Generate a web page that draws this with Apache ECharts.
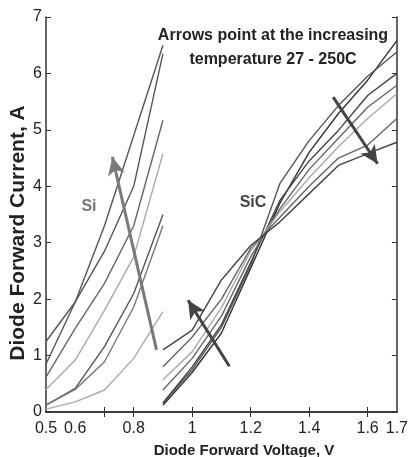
<!DOCTYPE html>
<html>
<head>
    <meta charset="UTF-8">
    <title>Diode forward characteristics</title>
    <script src="https://cdnjs.cloudflare.com/ajax/libs/echarts/6.0.0/echarts.min.js"></script>
    <style>
        html, body { margin: 0; padding: 0; background: #fff; }
        #chart { width: 411px; height: 457px; }
    </style>
</head>
<body>
    <div id="chart"></div>
    <script>
        // voltage steps
        const siVolt = [0.5, 0.6, 0.7, 0.8, 0.9];
        const sicVolt = [0.9, 1.0, 1.1, 1.2, 1.3, 1.4, 1.5, 1.6, 1.7];

        // Si curves, current in A
        const siCurrent = [
            [1.25, 1.95, 3.3, 4.9, 6.5],
            [0.85, 1.95, 2.85, 4.0, 6.35],
            [0.62, 1.48, 2.28, 3.3, 5.17],
            [0.4, 0.92, 1.8, 2.75, 4.58],
            [0.12, 0.42, 1.16, 2.1, 3.5],
            [0.12, 0.4, 0.89, 1.86, 3.3],
            [0.05, 0.18, 0.39, 0.95, 1.78]
        ];

        // SiC curves, current in A
        const sicCurrent = [
            [0.12, 0.7, 1.4, 2.55, 3.7, 4.6, 5.29, 5.88, 6.58],
            [0.16, 0.75, 1.5, 2.6, 4.05, 4.81, 5.43, 5.95, 6.38],
            [0.16, 0.8, 1.55, 2.65, 3.75, 4.45, 4.99, 5.61, 6.0],
            [0.39, 0.95, 1.7, 2.75, 3.6, 4.3, 4.85, 5.4, 5.79],
            [0.57, 1.07, 1.85, 2.85, 3.55, 4.15, 4.7, 5.2, 5.64],
            [0.8, 1.33, 2.0, 2.9, 3.45, 4.0, 4.5, 4.73, 5.2],
            [1.1, 1.45, 2.34, 2.95, 3.37, 3.87, 4.37, 4.58, 4.78]
        ];

        // tick labels
        const xLabels = [0.5, 0.6, 0.8, 1, 1.2, 1.4, 1.6, 1.7];
        const xTicks = [0.7, 0.8, 1, 1.2, 1.4, 1.6];

        // arrows: [from, to] in volts / amps
        const arrows = [
            { from: [0.878, 1.1], to: [0.727, 4.52], color: '#7a7a7a' },
            { from: [1.127, 0.81], to: [0.986, 1.98], color: '#444' },
            { from: [1.482, 5.58], to: [1.634, 4.4], color: '#444' }
        ];

        const siColors = ['#555', '#555', '#666', '#aaa', '#555', '#777', '#aaa'];
        const sicColors = ['#333', '#555', '#444', '#666', '#aaa', '#666', '#444'];

        const font = '"Liberation Sans", Arial, sans-serif';
        const chart = echarts.init(document.getElementById('chart'));

        function curve(volts, amps, color) {
            return {
                type: 'line',
                data: volts.map((v, i) => [v, amps[i]]),
                symbol: 'none',
                lineStyle: { color: color, width: 1.4 },
                silent: true
            };
        }

        const series = [];
        siCurrent.forEach((c, i) => series.push(curve(siVolt, c, siColors[i])));
        sicCurrent.forEach((c, i) => series.push(curve(sicVolt, c, sicColors[i])));
        arrows.forEach(a => {
            series.push({
                type: 'line',
                data: [],
                silent: true,
                markLine: {
                    silent: true,
                    animation: false,
                    symbol: ['none', 'arrow'],
                    symbolSize: [13, 18],
                    label: { show: false },
                    lineStyle: { color: a.color, width: 3, type: 'solid' },
                    data: [[{ coord: a.from }, { coord: a.to }]]
                }
            });
        });

        const frameLine = { show: true, lineStyle: { color: '#333', width: 1.5 } };

        const option = {
            animation: false,
            grid: { left: 46, right: 9, top: 17, bottom: 45 },
            xAxis: [
                {
                    type: 'value', min: 0.5, max: 1.7,
                    axisLine: frameLine,
                    splitLine: { show: false },
                    axisTick: { inside: true, length: 5, customValues: xTicks, lineStyle: { color: '#333' } },
                    axisLabel: {
                        customValues: xLabels, margin: 9, color: '#222',
                        fontFamily: font, fontSize: 16
                    }
                },
                {
                    type: 'value', min: 0.5, max: 1.7, position: 'top',
                    axisLine: frameLine,
                    splitLine: { show: false },
                    axisTick: { inside: true, length: 5, customValues: xTicks, lineStyle: { color: '#333' } },
                    axisLabel: { show: false }
                }
            ],
            yAxis: [
                {
                    type: 'value', min: 0, max: 7, interval: 1,
                    axisLine: frameLine,
                    splitLine: { show: false },
                    axisTick: { inside: true, length: 5, lineStyle: { color: '#333' } },
                    axisLabel: { margin: 4, color: '#222', fontFamily: font, fontSize: 16 }
                },
                {
                    type: 'value', min: 0, max: 7, interval: 1, position: 'right',
                    axisLine: frameLine,
                    splitLine: { show: false },
                    axisTick: { inside: true, length: 5, lineStyle: { color: '#333' } },
                    axisLabel: { show: false }
                }
            ],
            graphic: [
                {
                    type: 'text', x: 18, y: 233, rotation: Math.PI / 2,
                    style: {
                        text: 'Diode Forward Current, A', fill: '#222',
                        font: 'bold 21px ' + font, align: 'center', verticalAlign: 'middle'
                    }
                },
                {
                    type: 'text', x: 244, y: 451,
                    style: {
                        text: 'Diode Forward Voltage, V', fill: '#222',
                        font: 'bold 15px ' + font, align: 'center', verticalAlign: 'middle'
                    }
                },
                {
                    type: 'text', x: 273, y: 36,
                    style: {
                        text: 'Arrows point at the increasing', fill: '#222',
                        font: 'bold 16px ' + font, align: 'center', verticalAlign: 'middle'
                    }
                },
                {
                    type: 'text', x: 273, y: 60,
                    style: {
                        text: 'temperature 27 - 250C', fill: '#222',
                        font: 'bold 16px ' + font, align: 'center', verticalAlign: 'middle'
                    }
                },
                {
                    type: 'text', x: 89, y: 207,
                    style: {
                        text: 'Si', fill: '#777',
                        font: 'bold 16px ' + font, align: 'center', verticalAlign: 'middle'
                    }
                },
                {
                    type: 'text', x: 253, y: 203,
                    style: {
                        text: 'SiC', fill: '#444',
                        font: 'bold 16px ' + font, align: 'center', verticalAlign: 'middle'
                    }
                }
            ],
            series: series
        };

        chart.setOption(option);
        window.addEventListener('resize', () => chart.resize());
    </script>
</body>
</html>
